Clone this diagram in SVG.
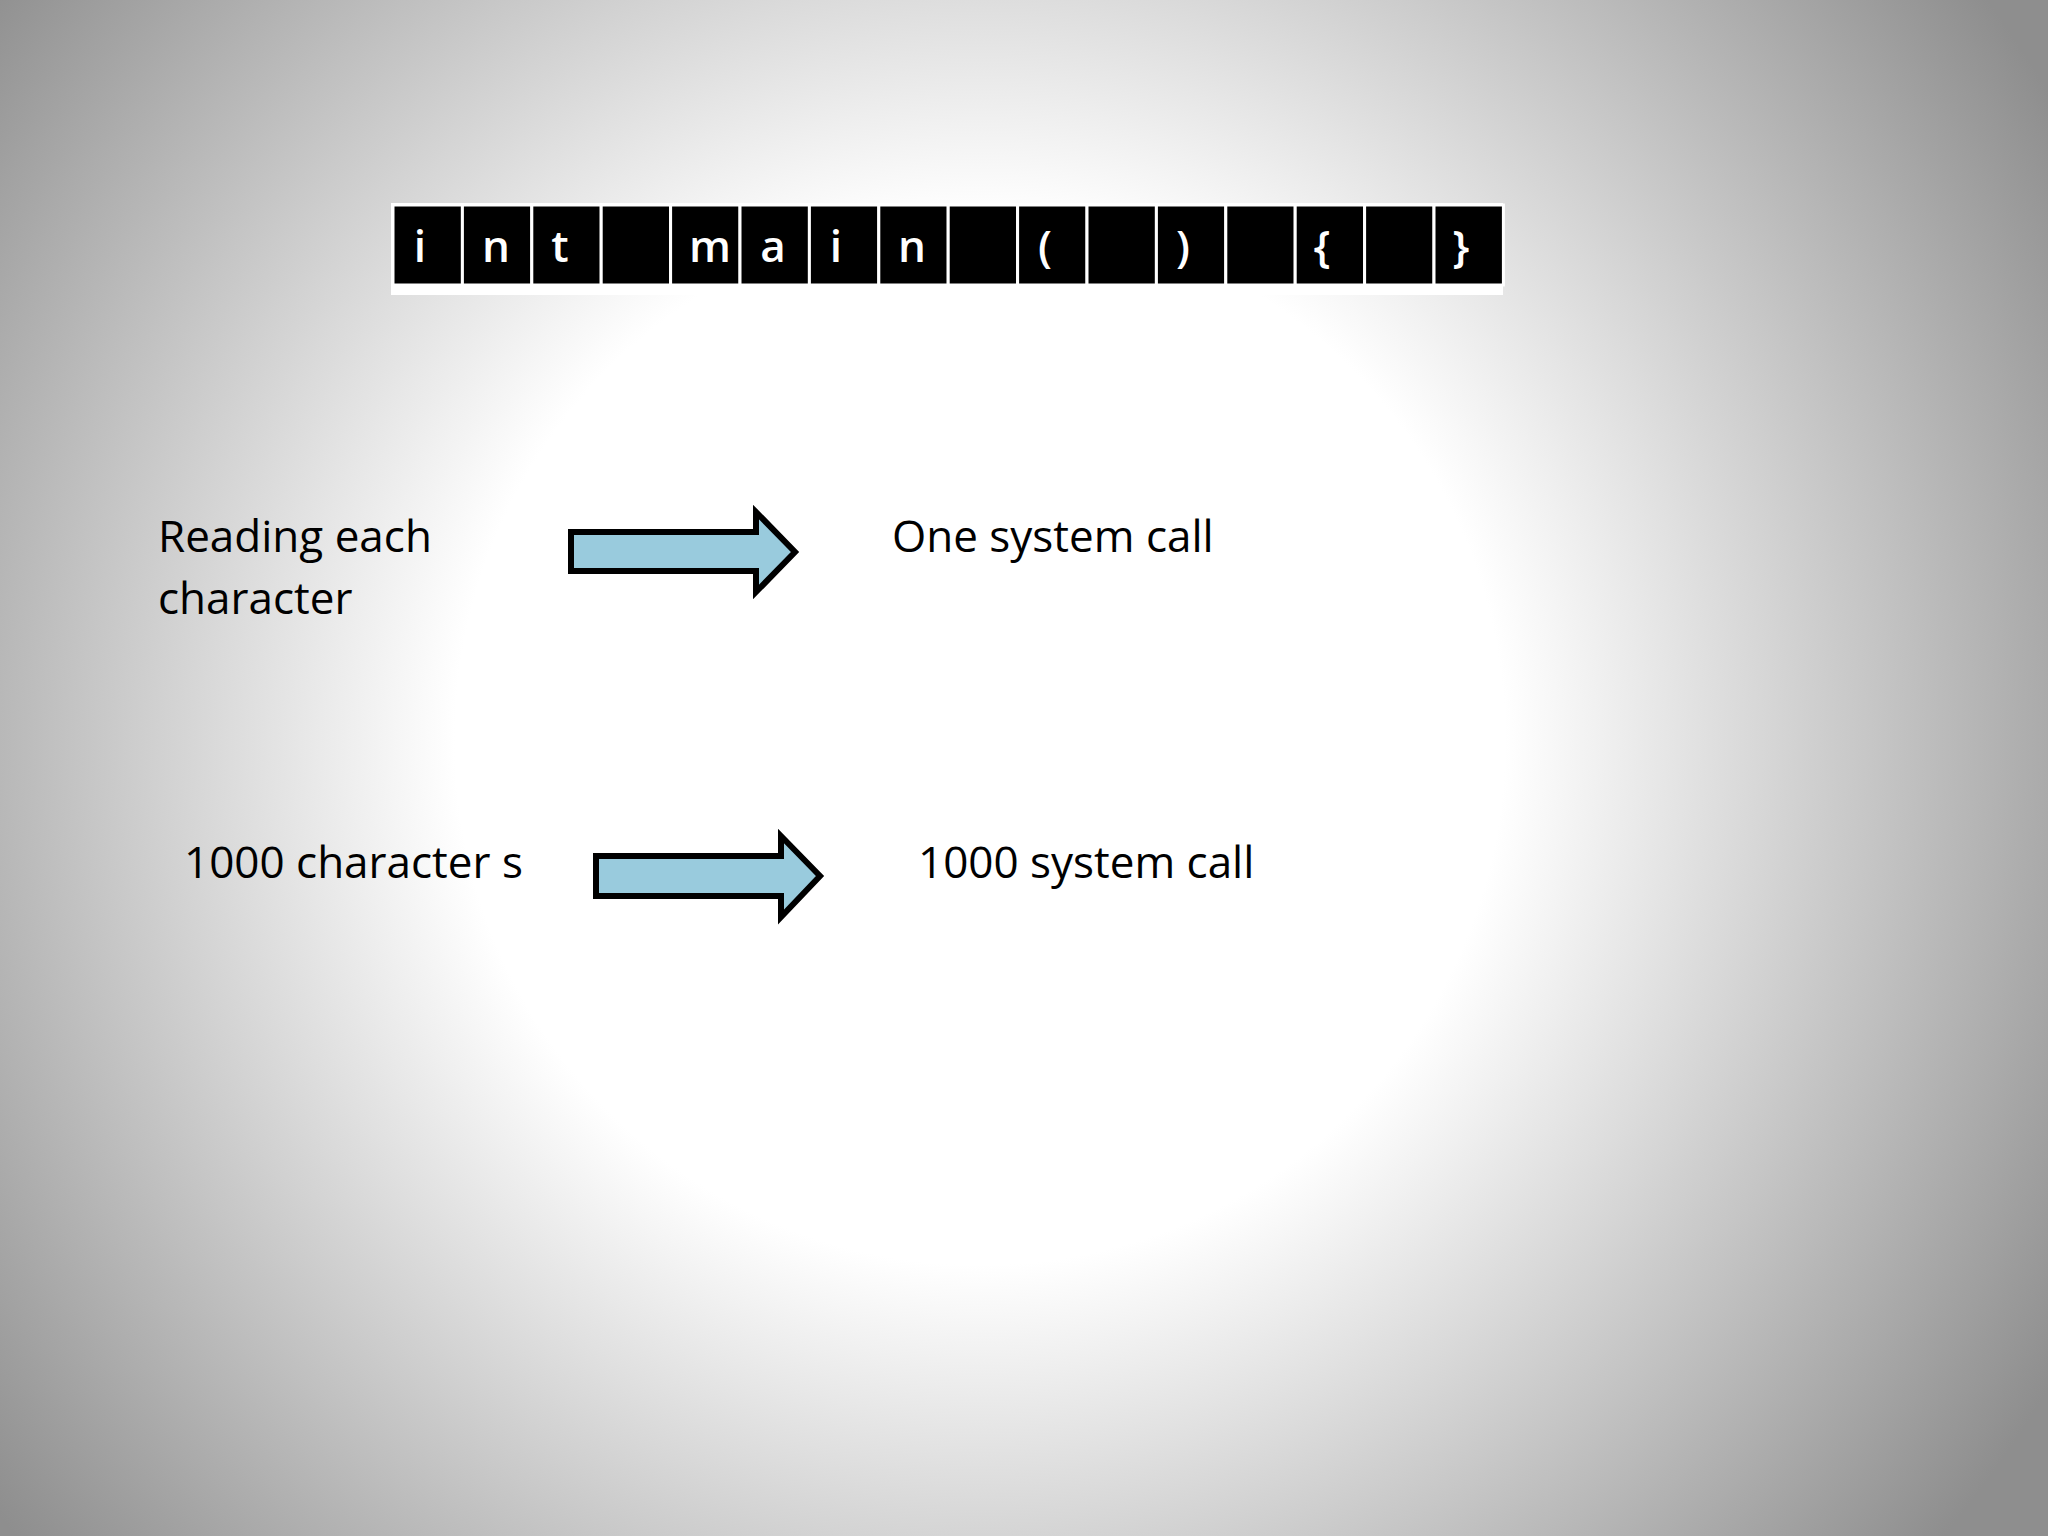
<svg xmlns="http://www.w3.org/2000/svg" width="2048" height="1536" viewBox="0 0 2048 1536">
<defs>
<radialGradient id="bg" cx="980" cy="740" r="1250" gradientUnits="userSpaceOnUse">
<stop offset="0" stop-color="#ffffff"/><stop offset="0.42" stop-color="#ffffff"/><stop offset="1" stop-color="#8e8e8e"/>
</radialGradient>
<style>
.t{font-family:"Open Sans","Liberation Sans",sans-serif;font-size:44px;fill:#000}
.c{font-family:"Open Sans","Liberation Sans",sans-serif;font-size:44px;font-weight:600;fill:#fff;text-anchor:middle}
.cell{fill:#000;stroke:#fff;stroke-width:3}
.arr{fill:#99cbdd;stroke:#000;stroke-width:6;stroke-linejoin:miter}
</style>
</defs>
<rect width="2048" height="1536" fill="url(#bg)"/>
<g id="bar">
<rect x="391" y="203" width="1112" height="92" fill="#fff"/>
<g id="cells">
<rect class="cell" x="393" y="205" width="69.4" height="80"/>
<rect class="cell" x="462.4" y="205" width="69.4" height="80"/>
<rect class="cell" x="531.8" y="205" width="69.4" height="80"/>
<rect class="cell" x="601.2" y="205" width="69.4" height="80"/>
<rect class="cell" x="670.6" y="205" width="69.4" height="80"/>
<rect class="cell" x="740" y="205" width="69.4" height="80"/>
<rect class="cell" x="809.4" y="205" width="69.4" height="80"/>
<rect class="cell" x="878.8" y="205" width="69.4" height="80"/>
<rect class="cell" x="948.2" y="205" width="69.4" height="80"/>
<rect class="cell" x="1017.6" y="205" width="69.4" height="80"/>
<rect class="cell" x="1087" y="205" width="69.4" height="80"/>
<rect class="cell" x="1156.4" y="205" width="69.4" height="80"/>
<rect class="cell" x="1225.8" y="205" width="69.4" height="80"/>
<rect class="cell" x="1295.2" y="205" width="69.4" height="80"/>
<rect class="cell" x="1364.6" y="205" width="69.4" height="80"/>
<rect class="cell" x="1434" y="205" width="69.4" height="80"/>
</g>
<text class="c" x="420" y="262">i</text>
<text class="c" x="496" y="262">n</text>
<text class="c" x="560" y="262">t</text>
<text class="c" x="710" y="262">m</text>
<text class="c" x="773" y="262">a</text>
<text class="c" x="836" y="262">i</text>
<text class="c" x="912" y="262">n</text>
<text class="c" x="1045" y="262">(</text>
<text class="c" x="1183" y="262">)</text>
<text class="c" x="1322" y="262">{</text>
<text class="c" x="1461" y="262">}</text>
</g>
<g id="left1"><text class="t" x="158" y="552">Reading each</text><text class="t" x="158" y="614">character</text></g>
<g id="right1"><text class="t" x="892" y="552">One system call</text></g>
<g id="left2"><text class="t" x="184" y="878">1000 character s</text></g>
<g id="right2"><text class="t" x="918" y="878">1000 system call</text></g>
<g id="connectors">
<polygon class="arr" points="571,532 756,532 756,512 795,552 756,592 756,571 571,571"/>
<polygon class="arr" points="596,856 781,856 781,836 820,876 781,917 781,896 596,896"/>
</g>
</svg>
